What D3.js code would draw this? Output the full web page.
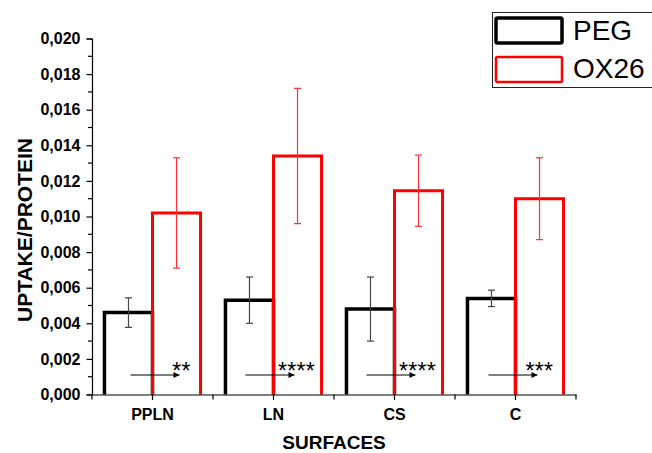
<!DOCTYPE html>
<html>
<head>
<meta charset="utf-8">
<script src="https://cdnjs.cloudflare.com/ajax/libs/d3/7.8.5/d3.min.js"></script>
<style>
  body { margin: 0; background: #fff; }
  text { font-family: "Liberation Sans", Arial, sans-serif; }
</style>
</head>
<body>
<div id="chart"></div>
<script>
(function(){
  // data
  var categories = ['PPLN', 'LN', 'CS', 'C'];
  var series = ['PEG', 'OX26'];
  var pegValues = [0.0046, 0.0053, 0.0048, 0.0054];
  var pegErrors = [0.00083, 0.0013, 0.0018, 0.00046];
  var oxValues = [0.0102, 0.0134, 0.01145, 0.0110];
  var oxErrors = [0.0031, 0.0038, 0.0020, 0.0023];
  var stars = ['**', '****', '****', '***'];
  var yTicks = [0, 0.002, 0.004, 0.006, 0.008, 0.010, 0.012, 0.014, 0.016, 0.018, 0.020];

  var width = 652, height = 453;
  var colors = { PEG: '#000', OX26: '#ff0000' };
  var errColors = { PEG: '#444', OX26: '#ff3030' };

  var svg = d3.select('#chart')
    .append('svg')
    .attr('width', width)
    .attr('height', height)
    .style('background', '#fff');

  var x0 = d3.scaleBand().domain(categories).range([92, 576]);
  var half = x0.bandwidth() * 0.397;
  var x1 = d3.scaleBand().domain(series).range([-half, half]);
  var y = d3.scaleLinear().domain([0, 0.020]).range([394.5, 38.5]);

  var fmt = d3.formatLocale({ decimal: ',', thousands: '.', grouping: [3], currency: ['', ''] }).format('.3f');

  var rows = categories.map(function(c, i){
    return [
      { cat: c, key: 'PEG', value: pegValues[i], err: pegErrors[i] },
      { cat: c, key: 'OX26', value: oxValues[i], err: oxErrors[i] }
    ];
  });
  var flat = d3.merge(rows);

  // bars (open at the bottom, like Origin)
  svg.selectAll('.bar')
    .data(flat)
    .enter().append('path')
    .attr('class', 'bar')
    .attr('fill', 'none')
    .attr('stroke', function(d){ return colors[d.key] })
    .attr('stroke-width', function(d){ return d.key === 'PEG' ? 3.5 : 3 })
    .attr('stroke-linejoin', 'miter')
    .attr('d', function(d){
      var xl = x0(d.cat) + x0.bandwidth() / 2 + x1(d.key);
      var xr = xl + x1.bandwidth();
      return 'M' + xl + ',' + y(0) + 'V' + y(d.value) + 'H' + xr + 'V' + y(0);
    });

  // error bars
  var eb = svg.selectAll('.err')
    .data(flat)
    .enter().append('g')
    .attr('class', 'err')
    .attr('stroke', function(d){ return errColors[d.key] })
    .attr('stroke-width', 1.2)
    .attr('transform', function(d){
      return 'translate(' + (x0(d.cat) + x0.bandwidth() / 2 + x1(d.key) + x1.bandwidth() / 2) + ',0)';
    });
  eb.append('line')
    .attr('y1', function(d){ return y(d.value + d.err) })
    .attr('y2', function(d){ return y(d.value - d.err) });
  eb.append('line').attr('x1', -3.5).attr('x2', 3.5)
    .attr('y1', function(d){ return y(d.value + d.err) })
    .attr('y2', function(d){ return y(d.value + d.err) });
  eb.append('line').attr('x1', -3.5).attr('x2', 3.5)
    .attr('y1', function(d){ return y(d.value - d.err) })
    .attr('y2', function(d){ return y(d.value - d.err) });

  // y axis
  var yAxis = svg.append('g')
    .attr('transform', 'translate(92,0)')
    .call(d3.axisLeft(y).tickValues(yTicks).tickFormat(fmt).tickSize(5.5).tickPadding(6));
  yAxis.select('.domain').attr('stroke', '#000').attr('stroke-width', 1.2);
  yAxis.selectAll('.tick line').attr('stroke-width', 1.2);
  yAxis.selectAll('text')
    .attr('font-size', 16)
    .attr('font-weight', 'bold')
    .attr('fill', '#000')
    .attr('font-family', '"Liberation Sans", Arial, sans-serif');
  // minor ticks
  svg.append('g').selectAll('line')
    .data(d3.range(1, 20, 2).map(function(v){ return v / 1000 }))
    .enter().append('line')
    .attr('x1', 88).attr('x2', 92)
    .attr('y1', function(d){ return y(d) })
    .attr('y2', function(d){ return y(d) })
    .attr('stroke', '#000').attr('stroke-width', 1.2);

  // x axis
  var xAxis = svg.append('g')
    .attr('transform', 'translate(0,' + y(0) + ')')
    .call(d3.axisBottom(x0).tickSize(5.5).tickSizeOuter(0).tickPadding(6));
  xAxis.select('.domain').attr('stroke', '#000').attr('stroke-width', 1.2);
  xAxis.selectAll('.tick line').attr('stroke-width', 1.2);
  xAxis.selectAll('text')
    .attr('font-size', 16)
    .attr('font-weight', 'bold')
    .attr('fill', '#000')
    .attr('dy', '0.9em')
    .attr('font-family', '"Liberation Sans", Arial, sans-serif');
  // minor ticks at category boundaries
  svg.append('g').selectAll('line')
    .data(categories.map(function(c){ return x0(c) }).concat([x0.range()[1]]))
    .enter().append('line')
    .attr('x1', function(d){ return d }).attr('x2', function(d){ return d })
    .attr('y1', y(0)).attr('y2', y(0) + 5)
    .attr('stroke', '#000').attr('stroke-width', 1.2);

  // axis titles
  svg.append('text')
    .attr('transform', 'translate(32,230) rotate(-90)')
    .attr('text-anchor', 'middle')
    .attr('font-size', 21)
    .attr('font-weight', 'bold')
    .text('UPTAKE/PROTEIN');
  svg.append('text')
    .attr('x', (x0.range()[0] + x0.range()[1]) / 2)
    .attr('y', 448.5)
    .attr('text-anchor', 'middle')
    .attr('font-size', 19)
    .attr('font-weight', 'bold')
    .text('SURFACES');

  // significance arrows
  var defs = svg.append('defs');
  defs.append('marker')
    .attr('id', 'arrow')
    .attr('viewBox', '0 0 10 10')
    .attr('refX', 10).attr('refY', 5)
    .attr('markerWidth', 8).attr('markerHeight', 6)
    .attr('markerUnits', 'userSpaceOnUse')
    .attr('orient', 'auto')
    .append('path').attr('d', 'M0,0L10,5L0,10Z').attr('fill', '#000');

  var arrowShift = [6, 0, 0, 1];
  var sig = svg.selectAll('.sig')
    .data(categories)
    .enter().append('g')
    .attr('class', 'sig')
    .attr('transform', function(d, i){
      return 'translate(' + (x0(d) + x0.bandwidth() / 2 + arrowShift[i]) + ',0)';
    });
  sig.append('line')
    .attr('x1', -28).attr('x2', 21)
    .attr('y1', 375).attr('y2', 375)
    .attr('stroke', '#000').attr('stroke-width', 1)
    .attr('marker-end', 'url(#arrow)');
  sig.append('text')
    .attr('x', 23).attr('y', 378.5)
    .attr('text-anchor', 'middle')
    .attr('font-size', 23)
    .attr('letter-spacing', 0.3)
    .text(function(d, i){ return stars[i] });

  // legend
  var lg = svg.append('g');
  lg.append('rect')
    .attr('x', 492.5).attr('y', 12.5)
    .attr('width', 170).attr('height', 75)
    .attr('fill', '#fff').attr('stroke', '#222').attr('stroke-width', 1);
  series.forEach(function(s, i){
    lg.append('rect')
      .attr('x', 496).attr('y', 18 + i * 39)
      .attr('width', 66).attr('height', 25)
      .attr('fill', 'none')
      .attr('stroke', colors[s])
      .attr('stroke-width', s === 'PEG' ? 3.5 : 2.5)
      .attr('rx', 1.5);
    lg.append('text')
      .attr('x', 573).attr('y', 39.5 + i * 38)
      .attr('font-size', 28)
      .attr('fill', '#000')
      .text(s);
  });
})()
</script>
</body>
</html>
